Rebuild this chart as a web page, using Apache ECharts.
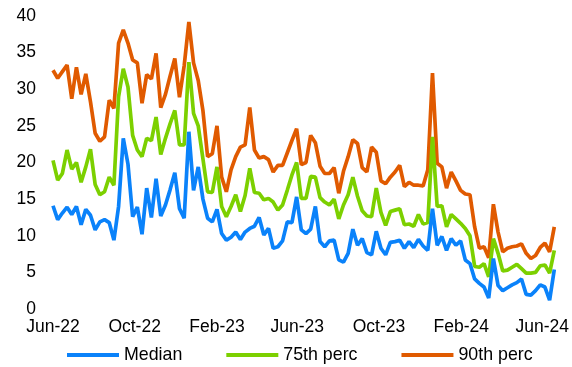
<!DOCTYPE html>
<html>
<head>
<meta charset="utf-8">
<script src="https://cdn.jsdelivr.net/npm/echarts@6/dist/echarts.min.js"></script>
<style>
  html, body { margin: 0; padding: 0; background: #fff; }
  #chart { width: 572px; height: 367px; }
</style>
</head>
<body>
<div id="chart"></div>
<script>
// Weekly observations starting 1 Jun 2022
const startYear = 2022, startMonth = 5, startDay = 1;

const median = [
  14.1, 12.2, 13.1, 13.9, 12.9, 14.0, 11.5, 13.6, 12.8, 10.8,
  11.9, 12.2, 11.8, 9.4, 14.0, 23.3, 19.8, 12.6, 13.9, 10.2,
  16.5, 12.5, 17.8, 12.7, 14.2, 16.3, 18.6, 13.7, 12.4, 24.2,
  16.2, 19.4, 15.0, 12.4, 11.9, 13.6, 10.3, 9.4, 9.8, 10.5,
  9.5, 10.5, 11.0, 11.3, 12.5, 10.1, 11.0, 8.3, 8.5, 9.3,
  11.9, 11.8, 15.3, 10.8, 10.3, 10.9, 14.0, 9.2, 8.5, 9.3,
  9.4, 6.7, 6.4, 7.6, 10.9, 8.7, 9.6, 7.7, 7.4, 10.6,
  8.3, 7.4, 9.1, 9.2, 9.4, 8.3, 9.2, 8.4, 9.5, 8.6,
  8.0, 13.7, 8.7, 9.9, 8.0, 9.6, 8.7, 9.3, 6.7, 6.2,
  4.1, 3.5, 3.0, 1.5, 6.9, 3.2, 2.5, 2.9, 3.3, 3.6,
  4.1, 2.0, 1.9, 2.5, 3.3, 3.0, 1.2, 5.4
];

const perc75 = [
  20.3, 17.6, 18.5, 21.7, 19.1, 20.0, 17.3, 19.4, 21.8, 17.0,
  15.6, 16.0, 18.0, 16.9, 29.0, 32.8, 30.3, 23.7, 21.7, 20.8,
  23.3, 23.0, 26.2, 21.1, 23.3, 25.3, 27.1, 22.4, 22.4, 33.7,
  26.7, 25.0, 20.5, 16.0, 15.9, 19.4, 14.0, 12.6, 14.0, 15.6,
  13.3, 15.5, 19.2, 15.9, 15.8, 14.9, 15.1, 14.6, 13.5, 14.2,
  16.2, 18.3, 20.0, 15.1, 15.1, 18.1, 18.0, 15.2, 14.6, 14.2,
  15.0, 12.3, 14.2, 15.6, 18.0, 15.4, 13.4, 12.7, 12.6, 16.5,
  13.2, 11.4, 13.3, 13.5, 13.7, 11.5, 11.6, 11.3, 12.9, 11.6,
  11.8, 23.5, 14.0, 14.1, 11.2, 12.9, 12.3, 11.7, 11.0, 10.0,
  5.8, 5.7, 6.2, 4.4, 9.6, 7.6, 5.2, 5.3, 5.7, 6.1,
  5.5, 4.9, 4.9, 5.0, 5.9, 6.0, 4.9, 8.0
];

const perc90 = [
  32.6, 31.5, 32.4, 33.3, 28.7, 33.0, 29.3, 32.1, 28.3, 24.0,
  22.9, 23.5, 28.5, 27.4, 36.3, 38.1, 36.3, 34.0, 33.6, 28.1,
  32.0, 31.4, 34.9, 27.5, 29.3, 31.8, 34.2, 28.9, 33.2, 39.2,
  33.6, 31.2, 27.1, 20.8, 21.2, 25.0, 18.0, 16.0, 19.0, 20.8,
  22.1, 22.4, 27.5, 21.7, 20.6, 20.8, 20.4, 18.7, 19.6, 19.6,
  21.3, 23.0, 24.6, 19.7, 20.0, 23.7, 22.7, 19.5, 18.5, 18.5,
  19.3, 15.8, 18.8, 20.8, 23.1, 22.6, 19.3, 18.7, 22.1, 21.4,
  17.5, 17.1, 18.0, 18.7, 19.6, 16.7, 17.3, 16.9, 16.9, 16.8,
  19.0, 32.2, 19.9, 19.4, 16.5, 18.7, 17.5, 16.2, 15.7, 15.6,
  11.2, 8.3, 8.5, 7.0, 14.3, 10.5, 7.8, 8.3, 8.5, 8.6,
  8.9, 7.6, 6.9, 7.3, 8.4, 9.0, 7.8, 11.2
];

const seriesNames = ['Median', '75th perc', '90th perc'];
const tickLabels = ['Jun-22', 'Oct-22', 'Feb-23', 'Jun-23', 'Oct-23', 'Feb-24', 'Jun-24'];
const tickDates = [[2022, 5], [2022, 9], [2023, 1], [2023, 5], [2023, 9], [2024, 1], [2024, 5]];
const yTicks = { min: 0, max: 40, step: 5 };

const DAY = 86400000;
const dates = median.map((_, i) => Date.UTC(startYear, startMonth, startDay + 7 * i) / DAY);
const tickValues = tickDates.map(d => Date.UTC(d[0], d[1], 1) / DAY);
const pair = arr => arr.map((v, i) => [dates[i], v]);

const FONT = "'Liberation Sans', Arial, sans-serif";
const colors = ['#0A82FA', '#7CD000', '#E05A00'];

const chart = echarts.init(document.getElementById('chart'), null, { renderer: 'canvas' });
chart.setOption({
  animation: false,
  backgroundColor: '#ffffff',
  color: colors,
  grid: { left: 53, right: 16, top: 16, bottom: 58, containLabel: false },
  legend: {
    data: seriesNames,
    left: 67,
    top: 346,
    padding: 0,
    icon: 'rect',
    itemWidth: 52,
    itemHeight: 4,
    itemGap: 44,
    textStyle: { fontFamily: FONT, fontSize: 17.8, color: '#000' }
  },
  xAxis: {
    type: 'value',
    min: dates[0],
    max: dates[dates.length - 1],
    axisLine: { show: false },
    axisTick: { show: false },
    splitLine: { show: false },
    axisLabel: {
      customValues: tickValues,
      formatter: function (val) {
        let best = 0, bd = Infinity;
        tickValues.forEach((t, i) => { const d = Math.abs(t - val); if (d < bd) { bd = d; best = i; } });
        return bd < 1 ? tickLabels[best] : '';
      },
      margin: 9,
      hideOverlap: false,
      fontFamily: FONT,
      fontSize: 17.5,
      color: '#000'
    }
  },
  yAxis: {
    type: 'value',
    min: yTicks.min,
    max: yTicks.max,
    interval: yTicks.step,
    axisLine: { show: false },
    axisTick: { show: false },
    splitLine: { show: false },
    axisLabel: { margin: 17, fontFamily: FONT, fontSize: 17.5, color: '#000' }
  },
  series: [
    { name: seriesNames[2], type: 'line', data: pair(perc90), showSymbol: false, symbol: 'none', color: colors[2], lineStyle: { width: 3.7, color: colors[2] }, z: 2 },
    { name: seriesNames[1], type: 'line', data: pair(perc75), showSymbol: false, symbol: 'none', color: colors[1], lineStyle: { width: 3.7, color: colors[1] }, z: 3 },
    { name: seriesNames[0], type: 'line', data: pair(median), showSymbol: false, symbol: 'none', color: colors[0], lineStyle: { width: 3.7, color: colors[0] }, z: 4 }
  ]
});
</script>
</body>
</html>
